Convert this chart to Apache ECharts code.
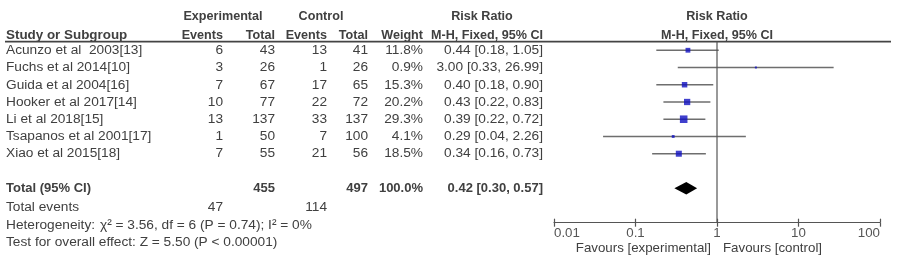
<!DOCTYPE html>
<html><head><meta charset="utf-8">
<script src="https://cdn.jsdelivr.net/npm/echarts@6/dist/echarts.min.js"></script>
<style>html,body{margin:0;padding:0;background:#fff}#c{width:898px;height:272px}</style>
</head><body><div id="c"></div>
<script>
const studies = ['Acunzo et al  2003[13]', 'Fuchs et al 2014[10]', 'Guida et al 2004[16]', 'Hooker et al 2017[14]', 'Li et al 2018[15]', 'Tsapanos et al 2001[17]', 'Xiao et al 2015[18]'];
const expEvents = [6, 3, 7, 10, 13, 1, 7];
const expTotal = [43, 26, 67, 77, 137, 50, 55];
const ctrlEvents = [13, 1, 17, 22, 33, 7, 21];
const ctrlTotal = [41, 26, 65, 72, 137, 100, 56];
const weights = [11.8, 0.9, 15.3, 20.2, 29.3, 4.1, 18.5];
const rr = [0.44, 3.00, 0.40, 0.43, 0.39, 0.29, 0.34];
const ciLow = [0.18, 0.33, 0.18, 0.22, 0.22, 0.04, 0.16];
const ciHigh = [1.05, 26.99, 0.90, 0.83, 0.72, 2.26, 0.73];
const pooled = [0.42, 0.30, 0.57];       // estimate, low, high
const totals = [455, 497];               // experimental total, control total
const totalWeight = '100.0%';
const totalEvents = [47, 114];
const heterogeneity = 'χ² = 3.56, df = 6 (P = 0.74); I² = 0%';
const overallEffect = 'Test for overall effect: Z = 5.50 (P < 0.00001)';
const xTicks = [0.01, 0.1, 1, 10, 100];

const FONT = "'Liberation Sans', Arial, sans-serif";
const TXT = '#404040';
const chart = echarts.init(document.getElementById('c'), null, {renderer: 'canvas'});
const totalRow = 8;

chart.setOption({
  animation: false,
  grid: {left: 554, right: 18, top: 33, bottom: 49.3},
  xAxis: [{
    type: 'log', logBase: 10, min: xTicks[0], max: xTicks[xTicks.length - 1],
    splitLine: {show: false},
    axisLine: {onZero: false, lineStyle: {color: '#555', width: 1.2}},
    axisTick: {length: 4, lineStyle: {color: '#555', width: 1.2}},
    axisLabel: {color: '#555', fontFamily: FONT, fontSize: 13.3, margin: 4,
      alignMinLabel: 'left', alignMaxLabel: 'right',
      formatter: v => String(+(+v).toPrecision(3))}
  }, {
    type: 'log', logBase: 10, min: xTicks[0], max: xTicks[xTicks.length - 1], position: 'bottom',
    splitLine: {show: false}, axisLine: {show: false, onZero: false},
    axisTick: {inside: true, length: 4, lineStyle: {color: '#555', width: 1.2}},
    axisLabel: {show: false}
  }],
  yAxis: {type: 'value', inverse: true, min: -1, max: 10, show: false},
  series: [
    {
      type: 'line', xAxisIndex: 0, data: [[1, -0.5], [1, 10]], symbol: 'none',
      lineStyle: {color: '#555', width: 1.2}, silent: true
    },
    {
      type: 'custom', xAxisIndex: 0,
      data: studies.map((s, i) => [i, ciLow[i], ciHigh[i]]),
      renderItem: (params, api) => {
        const p1 = api.coord([api.value(1), api.value(0)]);
        const p2 = api.coord([api.value(2), api.value(0)]);
        return {type: 'line', shape: {x1: p1[0], y1: p1[1], x2: p2[0], y2: p2[1]},
          style: {stroke: '#6e6e6e', lineWidth: 1.5}};
      }
    },
    {
      type: 'scatter', xAxisIndex: 0, symbol: 'rect',
      data: studies.map((s, i) => [rr[i], i, weights[i]]),
      symbolSize: v => Math.max(2, Math.sqrt(v[2]) * 1.4),
      itemStyle: {color: '#1010c0'}, z: 5
    },
    {
      type: 'custom', xAxisIndex: 0,
      data: [[totalRow, pooled[0], pooled[1], pooled[2]]],
      renderItem: (params, api) => {
        const r = api.value(0);
        const pL = api.coord([api.value(2), r]);
        const pH = api.coord([api.value(3), r]);
        const pT = api.coord([api.value(1), r - 0.36]);
        const pB = api.coord([api.value(1), r + 0.36]);
        return {type: 'polygon', shape: {points: [pL, pT, pH, pB]}, style: {fill: '#000'}};
      }
    }
  ]
});

const yPix = r => chart.convertToPixel({yAxisIndex: 0}, r);
const g = [];
function txt(s, x, r, align, font) {
  g.push({type: 'text', x: x, y: yPix(r), silent: true,
    style: {text: String(s), fill: TXT, font: (font || '13.7px') + ' ' + FONT,
      align: align, verticalAlign: 'middle'}});
}
const HB = 'bold 12.6px';
const TB = 'bold 13px';
// headers
txt('Experimental', 223, -1.93, 'center', HB);
txt('Control', 321, -1.93, 'center', HB);
txt('Risk Ratio', 482, -1.93, 'center', HB);
txt('Risk Ratio', 717, -1.93, 'center', HB);
txt('Study or Subgroup', 6, -0.88, 'left', 'bold 13.4px');
txt('Events', 223, -0.88, 'right', HB);
txt('Total', 275, -0.88, 'right', HB);
txt('Events', 327, -0.88, 'right', HB);
txt('Total', 368, -0.88, 'right', HB);
txt('Weight', 423, -0.88, 'right', HB);
txt('M-H, Fixed, 95% CI', 543, -0.88, 'right', HB);
txt('M-H, Fixed, 95% CI', 717, -0.88, 'center', HB);
g.push({type: 'line', silent: true, shape: {x1: 5, y1: yPix(-0.5), x2: 891, y2: yPix(-0.5)},
  style: {stroke: '#444', lineWidth: 1.6}});
// study rows
studies.forEach((s, i) => {
  txt(s, 6, i, 'left');
  txt(expEvents[i], 223, i, 'right');
  txt(expTotal[i], 275, i, 'right');
  txt(ctrlEvents[i], 327, i, 'right');
  txt(ctrlTotal[i], 368, i, 'right');
  txt(weights[i].toFixed(1) + '%', 423, i, 'right');
  txt(rr[i].toFixed(2) + ' [' + ciLow[i].toFixed(2) + ', ' + ciHigh[i].toFixed(2) + ']', 543, i, 'right');
});
// totals
txt('Total (95% CI)', 6, totalRow, 'left', TB);
txt(totals[0], 275, totalRow, 'right', TB);
txt(totals[1], 368, totalRow, 'right', TB);
txt(totalWeight, 423, totalRow, 'right', TB);
txt(pooled[0].toFixed(2) + ' [' + pooled[1].toFixed(2) + ', ' + pooled[2].toFixed(2) + ']', 543, totalRow, 'right', TB);
txt('Total events', 6, 9.1, 'left');
txt(totalEvents[0], 223, 9.1, 'right');
txt(totalEvents[1], 327, 9.1, 'right');
txt('Heterogeneity:', 6, 10.12, 'left');
txt(heterogeneity, 100, 10.12, 'left');
txt(overallEffect, 6, 11.15, 'left');
txt('Favours [experimental]', 711, 11.5, 'right', '13.3px');
txt('Favours [control]', 723, 11.5, 'left', '13.3px');
chart.setOption({graphic: g});
</script></body></html>
